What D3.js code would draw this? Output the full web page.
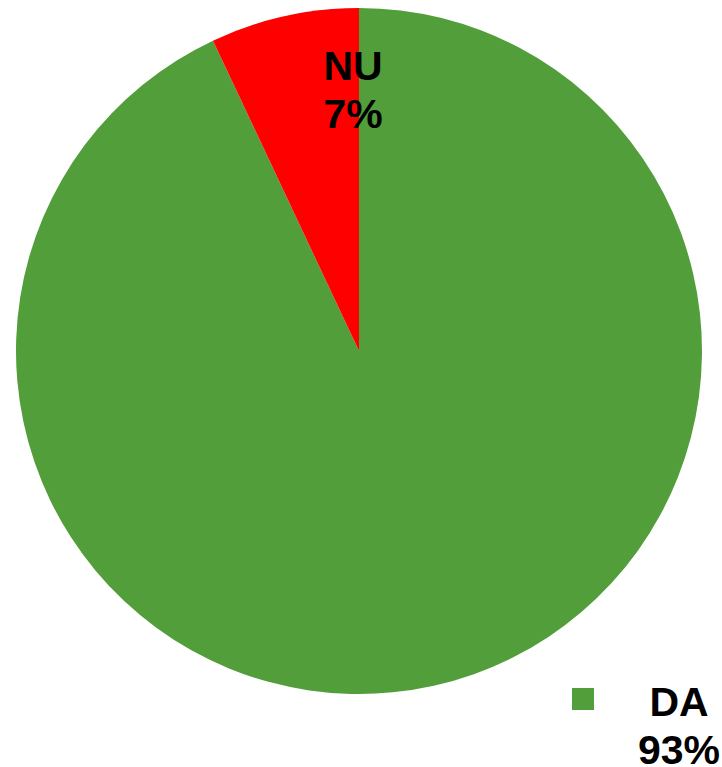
<!DOCTYPE html>
<html>
<head>
<meta charset="utf-8">
<script src="https://cdn.jsdelivr.net/npm/d3@7"></script>
<style>
  body { margin: 0; background: #fff; }
  svg { display: block; }
  text { font-family: "Liberation Sans", Arial, sans-serif; font-weight: bold; fill: #000; }
</style>
</head>
<body>
<svg width="722" height="767"></svg>
<script>

var categories = ["DA", "NU"];
var values = [93, 7];
var colors = ["#529E3B", "#FF0000"];

var svg = d3.select("svg"),
   cx = 359,
   cy = 351,
   radius = 343,
   g = svg.append("g").attr("transform", "translate(" + cx + "," + cy + ")");

var data = categories.map(function(c, i) { return {name: c, value: values[i], color: colors[i]}; });

var pie = d3.pie()
   .sort(null)
   .value(function(d) { return d.value; });

var arc = d3.arc()
   .innerRadius(0)
   .outerRadius(radius);

var arcs = pie(data);

g.selectAll("path.slice")
   .data(arcs)
 .enter().append("path")
   .attr("class", "slice")
   .attr("fill", function(d) { return d.data.color; })
   .attr("d", arc);

// label spots (relative to the pie centre)
var labelPos = {
 DA: {x: 320, y: 365, key: true},
 NU: {x: -6, y: -271, key: false}
};

arcs.forEach(function(d) {
 var p = labelPos[d.data.name];
 var t = g.append("text")
     .attr("x", p.x)
     .attr("y", p.y)
     .style("font-size", "41px")
     .style("text-anchor", "middle");
 t.append("tspan").attr("x", p.x).text(d.data.name);
 t.append("tspan").attr("x", p.x).attr("dy", "1.17em").text(d.data.value + "%");

 if (p.key) {
   g.append("rect")
       .attr("x", p.x - 107)
       .attr("y", p.y - 28)
       .attr("width", 22)
       .attr("height", 22)
       .attr("fill", d.data.color);
 }
});

</script>
</body>
</html>
